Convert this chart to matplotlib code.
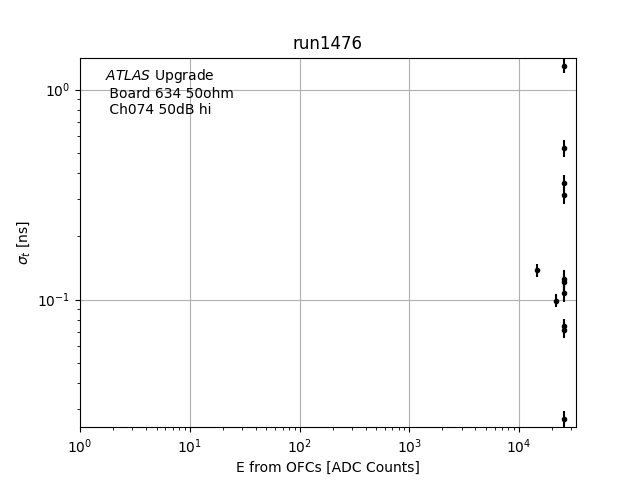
import matplotlib
matplotlib.use("Agg")
import matplotlib.pyplot as plt

energy = [25700, 25700, 25700, 25700, 14600, 25700, 25700, 25700, 21700, 25700, 25700, 25700]
sigma_t = [1.30, 0.528, 0.359, 0.315, 0.138, 0.126, 0.121, 0.107, 0.099, 0.0745, 0.0720, 0.0270]
sigma_err = [0.10, 0.05, 0.035, 0.03, 0.010, 0.012, 0.012, 0.010, 0.007, 0.006, 0.006, 0.0025]

fig, ax = plt.subplots(figsize=(6.4, 4.8), dpi=100)
ax.errorbar(energy, sigma_t, yerr=sigma_err, fmt='k.')
ax.set_xscale('log')
ax.set_yscale('log')
ax.set_xlim(1, 33000)
ax.set_ylim(0.0247, 1.42)
ax.grid(True)
ax.set_title('run1476')
ax.set_xlabel('E from OFCs [ADC Counts]')
ax.set_ylabel(r'$\sigma_t$ [ns]')
ax.text(0.05, 0.975, '$\\it{ATLAS}$ Upgrade\n Board 634 50ohm\n Ch074 50dB hi',
        transform=ax.transAxes, va='top', ha='left')
fig.savefig('out.png', dpi=100)
